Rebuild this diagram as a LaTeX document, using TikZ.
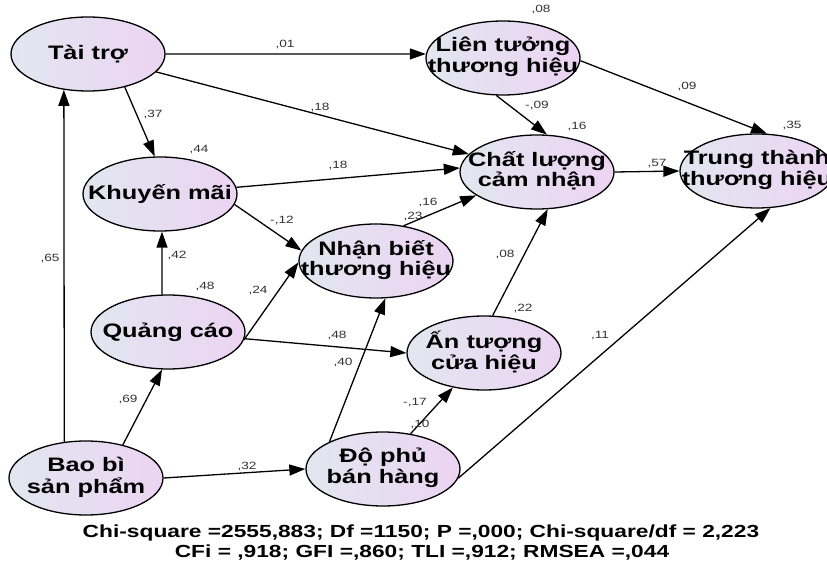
\documentclass[tikz,border=0pt]{standalone}
\usepackage{fontspec}
\setmainfont{Liberation Sans}
\usetikzlibrary{shapes.geometric,arrows.meta}
\definecolor{ellL}{RGB}{226,230,240}
\definecolor{ellR}{RGB}{236,212,242}
\definecolor{numc}{RGB}{50,50,50}
\newcommand{\wx}[1]{\scalebox{1.3}[1]{#1}}
\newcommand{\two}[2]{\wx{\begin{tabular}{@{}c@{}}#1\\#2\end{tabular}}}
\tikzset{
  ell/.style={ellipse, draw=black, line width=1.3pt, left color=ellL, right color=ellR,
    minimum width=154pt, minimum height=74pt, inner sep=0pt},
  txt/.style={font=\fontsize{19.5}{20.5}\selectfont\bfseries, inner sep=0pt, align=center},
  num/.style={font=\fontsize{10.5}{12}\selectfont, text=numc, inner sep=0pt},
  arr/.style={line width=1.3pt, -{Triangle[length=16pt,width=11pt]}},
  foot/.style={font=\fontsize{17.5}{19}\selectfont\bfseries, inner sep=0pt}
}
\begin{document}
\begin{tikzpicture}[x=1pt,y=-1pt]
\useasboundingbox (0,0) rectangle (827,561);
% nodes
\node[ell, label={[txt]center:\wx{Tài trợ}}] (ttr) at (88,54) {};
\node[ell, label={[txt]center:\wx{Khuyến mãi}}] (km) at (160,194) {};
\node[ell, label={[txt]center:\wx{Quảng cáo}}] (qc) at (168,332) {};
\node[ell, label={[txt]center:\two{Bao bì}{sản phẩm}}] (bb) at (86,478) {};
\node[ell, label={[txt]center:\two{Độ phủ}{bán hàng}}] (dp) at (383,469) {};
\node[ell, label={[txt]center:\two{Nhận biết}{thương hiệu}}] (nb) at (376,261) {};
\node[ell, label={[txt]center:\two{Ấn tượng}{cửa hiệu}}] (at) at (484,353) {};
\node[ell, label={[txt]center:\two{Chất lượng}{cảm nhận}}] (cl) at (537,172) {};
\node[ell, label={[txt]center:\two{Liên tưởng}{thương hiệu}}] (lt) at (503,58) {};
\node[ell, label={[txt]center:\two{Trung thành}{thương hiệu}}] (tth) at (757,171) {};
% connectors
\draw[arr] (ttr.east) -- (lt.177);
\draw[arr] (ttr) -- (cl);
\draw[arr] (ttr.-42) -- (km.98);
\draw[arr] (bb.121) -- (ttr.236);
\draw[arr] (km.5) -- (cl.177);
\draw[arr] (km.-8) -- (nb.172);
\draw[arr] (qc.99) -- (km.-87);
\draw[arr] (qc.-6) -- (nb.181);
\draw[arr] (qc.-5) -- (at.west);
\draw[arr] (bb.42) -- (qc.-99);
\draw[arr] (bb.east) -- (dp.west);
\draw[arr] (dp.153) -- (nb.-76);
\draw[arr] (dp.52) -- (at.-132);
\draw[arr] (dp.-7) -- (tth.-70);
\draw[arr] (nb.52) -- (cl.-159);
\draw[arr] (at.77) -- (cl.-74);
\draw[arr] (lt.-100) -- (cl.75);
\draw[arr] (lt.-2) -- (tth.75);
\draw[arr] (cl.east) -- (tth.west);
% numbers
\node[num] (n01) at (285,45) {\wx{,01}};
\node[num] (n37) at (153,115) {\wx{,37}};
\node[num] (n18a) at (320,108) {\wx{,18}};
\node[num] (n44) at (199,150) {\wx{,44}};
\node[num] (n18b) at (338,166) {\wx{,18}};
\node[num] (n08t) at (541,10) {\wx{,08}};
\node[num] (n09) at (687,87) {\wx{,09}};
\node[num] (nm09) at (537,106) {\wx{-,09}};
\node[num] (n16a) at (577,127) {\wx{,16}};
\node[num] (n35) at (792,126) {\wx{,35}};
\node[num] (n57) at (657,164) {\wx{,57}};
\node[num] (nm12) at (282,221) {\wx{-,12}};
\node[num] (n42) at (177,256) {\wx{,42}};
\node[num] (n65) at (50,259) {\wx{,65}};
\node[num] (n48a) at (205,287) {\wx{,48}};
\node[num] (n24) at (258,291) {\wx{,24}};
\node[num] (n48b) at (337,336) {\wx{,48}};
\node[num] (n40) at (343,363) {\wx{,40}};
\node[num] (n16b) at (428,203) {\wx{,16}};
\node[num] (n23) at (413,217) {\wx{,23}};
\node[num] (n08) at (505,255) {\wx{,08}};
\node[num] (n22) at (523,309) {\wx{,22}};
\node[num] (n11) at (600,336) {\wx{,11}};
\node[num] (n69) at (128,400) {\wx{,69}};
\node[num] (nm17) at (415,403) {\wx{-,17}};
\node[num] (n10) at (420,425) {\wx{,10}};
\node[num] (n32) at (247,467) {\wx{,32}};
% footer
\node[foot] (f1) at (421,533) {\wx{Chi-square =2555,883; Df =1150; P =,000; Chi-square/df = 2,223}};
\node[foot] (f2) at (422,553) {\wx{CFi = ,918; GFI =,860; TLI =,912; RMSEA =,044}};
\end{tikzpicture}
\end{document}
